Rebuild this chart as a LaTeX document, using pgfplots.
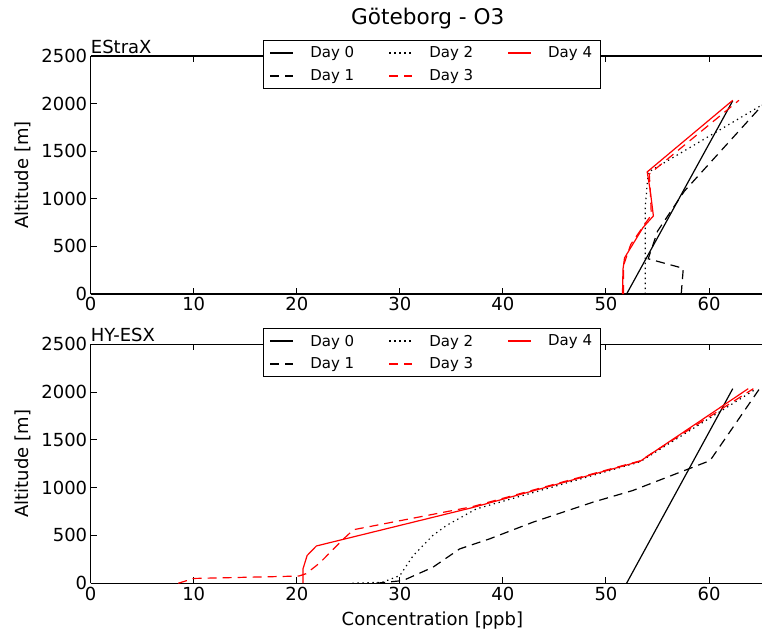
\documentclass[border=0pt]{standalone}
\usepackage{fontspec}
\setmainfont{DejaVu Sans}
\usepackage{pgfplots}
\pgfplotsset{compat=1.18}

\pgfplotsset{
  panel/.style={
    scale only axis, width=674bp,
    xmin=0, xmax=65.4, ymin=0, ymax=2500,
    xtick={0,10,...,60}, ytick={0,500,...,2500},
    axis x line=box, axis y line*=left,
    axis line style={-, line width=1.1bp},
    tick align=inside, major tick length=6bp,
    tick style={black, line width=1bp},
    minor tick num=0,
    /pgf/number format/assume math mode=true,
    /pgf/number format/1000 sep={},
    tick label style={font=\fontsize{18bp}{21bp}\selectfont},
    label style={font=\fontsize{18bp}{21bp}\selectfont},
    ylabel={Altitude [m]},
    ylabel style={at={(axis description cs:-0.1,0.5)}, anchor=center, rotate=0},
    clip mode=individual,
    legend image code/.code={\draw[##1, line width=2bp] (0bp,0bp) -- (23bp,0bp);},
    legend style={at={(0.506,1.066)}, anchor=north, legend columns=3,
      draw=black, line width=1bp, fill=white,
      font=\fontsize{15bp}{18bp}\selectfont,
      inner xsep=6bp, inner ysep=4bp, row sep=6bp,
      /tikz/every odd column/.append style={column sep=14bp},
      /tikz/every even column/.append style={column sep=32bp}},
    legend cell align=left,
  },
  d0/.style={black, line width=1.2bp},
  d1/.style={black, line width=1.2bp, dash pattern=on 9bp off 6bp},
  d2/.style={black, line width=1.2bp, dash pattern=on 1.3bp off 3.7bp},
  d3/.style={red, line width=1.2bp, dash pattern=on 9bp off 6bp},
  d4/.style={red, line width=1.2bp},
}

\newcommand{\daylegend}{%
  \addlegendimage{d0}\addlegendentry{Day 0}
  \addlegendimage{d2}\addlegendentry{Day 2}
  \addlegendimage{d4}\addlegendentry{Day 4}
  \addlegendimage{d1}\addlegendentry{Day 1}
  \addlegendimage{d3}\addlegendentry{Day 3}
}

\begin{document}
\begin{tikzpicture}[x=1bp, y=1bp]
\useasboundingbox (0,0) rectangle (762,632);

% EStraX
\begin{axis}[panel, name=top, at={(88,355)}, anchor=south west, height=238bp,
  title={Göteborg - O3},
  title style={font=\fontsize{21.6bp}{26bp}\selectfont, anchor=base, yshift=26bp}]
\daylegend
\addplot[d0, forget plot] coordinates {(52.0,0) (62.3,2030)};
\addplot[d1, forget plot] coordinates {(57.3,0) (57.5,270) (54.1,370) (55.0,660) (57.6,1080) (65.6,2035)};
\addplot[d2, forget plot] coordinates {(53.8,0) (53.8,900) (54.1,1280) (65.9,2035)};
\addplot[d3, forget plot] coordinates {(51.7,0) (51.7,300) (52.4,520) (53.8,740) (54.4,830) (54.3,1080) (54.2,1260) (62.9,2035)};
\addplot[d4, forget plot] coordinates {(51.6,0) (51.65,260) (51.8,380) (53.6,700) (54.6,820) (54.3,1080) (54.0,1283) (62.3,2035)};
\end{axis}
\node[anchor=base west, inner sep=0pt, font=\fontsize{18bp}{21bp}\selectfont]
  at ([yshift=3bp]top.north west) {EStraX};

% HY-ESX
\begin{axis}[panel, name=bot, at={(88,51)}, anchor=south west, height=239bp,
  xlabel={Concentration [ppb]},
  xlabel style={at={(axis description cs:0.507,-0.155)}, anchor=center}]
\daylegend
\addplot[d0, forget plot] coordinates {(52.0,0) (62.3,2035)};
\addplot[d1, forget plot] coordinates {(27.7,0) (30.3,28) (33.2,167) (35.8,359) (38.7,464) (42.9,638) (48.7,847) (52.6,970) (60.1,1283) (64.9,2035)};
\addplot[d2, forget plot] coordinates {(25.4,0) (28.3,10) (30.0,80) (31.3,290) (33.2,500) (34.5,603) (37.4,777) (53.3,1270) (64.6,2035)};
\addplot[d3, forget plot] coordinates {(8.5,0) (10.0,50) (20.2,75) (20.9,100) (22.2,210) (24.5,460) (25.5,560) (37.0,800) (53.3,1280) (64.3,2035)};
\addplot[d4, forget plot] coordinates {(20.6,0) (20.6,150) (21.0,290) (21.9,390) (37.0,790) (53.3,1275) (63.8,2035)};
\end{axis}
\node[anchor=base west, inner sep=0pt, font=\fontsize{18bp}{21bp}\selectfont]
  at ([yshift=3bp]bot.north west) {HY-ESX};
\end{tikzpicture}
\end{document}
